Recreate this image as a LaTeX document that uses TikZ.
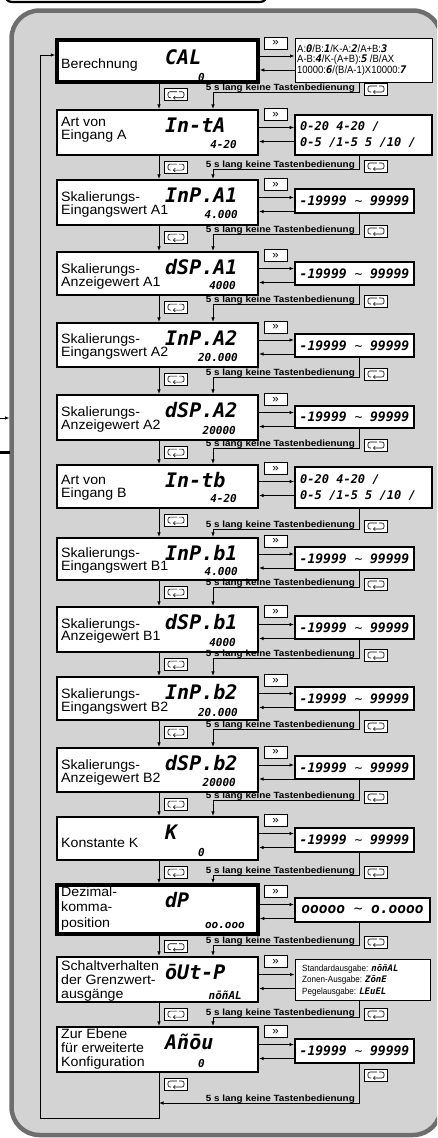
\documentclass[tikz,border=0pt]{standalone}
\usepackage{fontspec}
\setmainfont{Liberation Sans}[FakeStretch=1.05]
\newfontfamily\segfont{DejaVu Sans Mono}
\newfontfamily\narrowfont{Liberation Sans}[FakeStretch=0.9]
\newfontfamily\waitfont{Liberation Sans}[FakeStretch=1.1]
\usetikzlibrary{arrows.meta,calc}
\definecolor{panelgray}{RGB}{211,211,211}
\definecolor{bordergray}{RGB}{110,110,110}
\newcommand\sg{\segfont\bfseries\itshape}
\newcommand\sgs[1]{{\sg #1}}
\newcommand\tld{{\mdseries\upshape\textasciitilde}}
\newcommand\nines{-19999 \tld{} 99999}
\tikzset{
 mainbox/.style={draw, fill=white, minimum width=201pt, inner sep=0pt},
 rbox/.style={draw, fill=white, inner sep=0pt, font=\fontsize{13}{13}\sg},
 keybox/.style={draw, fill=white, line width=1pt, minimum width=23pt, minimum height=12pt, inner sep=0pt},
 conn/.style={line width=0.8pt},
 arr/.style={conn, -{Latex[length=4.5pt,width=3.5pt]}},
 lbl/.style={anchor=west, align=left, inner sep=0pt, font=\fontsize{13.5}{13}\selectfont},
 bigseg/.style={anchor=west, inner sep=0pt, font=\fontsize{20}{20}\sg},
 smallseg/.style={anchor=east, inner sep=0pt, font=\fontsize{11}{11}\sg},
 twoseg/.style={anchor=west, align=left, inner sep=0pt, font=\fontsize{12}{16}\sg},
 narrow/.style={anchor=west, align=left, inner sep=0pt, font=\fontsize{10.5}{10.5}\narrowfont},
 narrowsm/.style={anchor=west, align=left, inner sep=0pt, font=\fontsize{9}{11.5}\narrowfont},
 wait/.style={anchor=base east, inner sep=0pt, font=\fontsize{9}{9}\waitfont\bfseries},
}
\newcommand\retkey[2]{%
 \node[keybox] (#1) at (#2) {};
 \begin{scope}[shift={(#1.center)}, line width=0.6pt]
  \draw[rounded corners=2pt] (1,-3) -- (-8,-3) -- (-8,3) -- (-5,3);
  \draw[rounded corners=2pt, -{Straight Barb[length=1.8pt,width=3.5pt]}] (3,-3) -- (8,-3) -- (8,3) -- (-3,3);
 \end{scope}}
\newcommand\rowbox[9]{%
 \node[mainbox, line width=#7, minimum height={(#3)-(#2)}] (m#1) at (157.5,{((#2)+(#3))/2}) {};
 \node[rbox, line width=#8, minimum width={(#6)-295}, minimum height={(#5)-(#4)}] (r#1) at ({(295+(#6))/2},{((#4)+(#5))/2}) {#9};
 \node[keybox, font=\fontsize{11}{11}\selectfont] (f#1) at (275.5,{((#2)+(#3))/2-18}) {»};
 \coordinate (o#1) at ($(m#1.east)+(0,-5)$);
 \coordinate (b#1) at ($(m#1.east)+(0,9)$);
 \draw[arr] (o#1) -- (o#1 -| r#1.west);
 \draw[arr] (b#1 -| r#1.west) -- (b#1);
}
\newcommand\link[3]{%
 \coordinate (y#1) at (0,#3);
 \draw[arr] (m#1.south -| xl) -- (m#2.north -| xl);
 \draw[arr] (r#1.south -| xr) |- (y#1 -| xm) -- (m#2.north -| xm);
 \node[wait] (w#1) at ($(y#1 -| xr)+(-4,-2)$) {5 s lang keine Tastenbedienung};
 \retkey{kl#1}{$(m#1.south -| kx)+(0,11)$}
 \retkey{kr#1}{$(y#1 -| kxr)+(0,-3)$}
}
\begin{document}
\begin{tikzpicture}[x=1pt,y=-1pt]
\useasboundingbox (0,0) rectangle (437,1138);
\clip (0,0) rectangle (437,1138);
\coordinate (xl) at (159,0);
\coordinate (xm) at (213,0);
\coordinate (xr) at (359,0);
\coordinate (kx) at (176,0);
\coordinate (kxr) at (376,0);
% heading tab (cut off)
\draw[line width=2.2pt, rounded corners=7pt] (5,-20) rectangle (267,2);
% panel
\draw[draw=bordergray, fill=panelgray, line width=4.5pt, rounded corners=28pt] (11.5,10.5) rectangle (441,1135);
% external connectors on the left
\coordinate (e1) at (0,418); \coordinate (e1b) at (9.5,418);
\draw[arr] (e1) -- (e1b);
\coordinate (e2) at (0,452); \coordinate (e2b) at (9.5,452);
\draw[line width=3pt] (e2) -- (e2b);

% rows
\rowbox{1}{40}{82}{38}{82}{432}{3.5pt}{0.9pt}{}
\rowbox{2}{110}{155}{115}{155}{432}{2.2pt}{1.6pt}{}
\rowbox{3}{180}{225}{189}{213}{414}{2.2pt}{2pt}{\nines}
\rowbox{4}{252}{295}{262}{285}{414}{2.2pt}{2pt}{\nines}
\rowbox{5}{323}{367}{334}{357}{414}{2.2pt}{2pt}{\nines}
\rowbox{6}{395}{440}{406}{428}{414}{2.2pt}{2pt}{\nines}
\rowbox{7}{465}{508}{467}{508}{432}{2.2pt}{1.6pt}{}
\rowbox{8}{538}{580}{547}{570}{414}{2.2pt}{2pt}{\nines}
\rowbox{9}{607}{652}{616}{639}{414}{2.2pt}{2pt}{\nines}
\rowbox{10}{677}{720}{687}{710}{414}{2.2pt}{2pt}{\nines}
\rowbox{11}{748}{792}{756}{779}{414}{2.2pt}{2pt}{\nines}
\rowbox{12}{817}{860}{828}{852}{414}{2.2pt}{2pt}{\nines}
\rowbox{13}{885}{934}{898}{922}{430}{3.5pt}{2pt}{\fontsize{14.5}{14.5}\sg ooooo \tld{} o.oooo}
\rowbox{14}{957}{1002}{959}{1000}{430}{2.2pt}{0.9pt}{}
\rowbox{15}{1027}{1072}{1039}{1063}{414}{2.2pt}{2pt}{\nines}

% labels
\node[lbl] (l1) at (61,65) {Berechnung};
\node[lbl] (l2) at (61,130) {Art von\\Eingang A};
\node[lbl] (l3) at (61,205) {Skalierungs-\\Eingangswert A1};
\node[lbl] (l4) at (61,277) {Skalierungs-\\Anzeigewert A1};
\node[lbl] (l5) at (61,347) {Skalierungs-\\Eingangswert A2};
\node[lbl] (l6) at (61,420) {Skalierungs-\\Anzeigewert A2};
\node[lbl] (l7) at (61,488) {Art von\\Eingang B};
\node[lbl] (l8) at (61,561) {Skalierungs-\\Eingangswert B1};
\node[lbl] (l9) at (61,631) {Skalierungs-\\Anzeigewert B1};
\node[lbl] (l10) at (61,701) {Skalierungs-\\Eingangswert B2};
\node[lbl] (l11) at (61,772) {Skalierungs-\\Anzeigewert B2};
\node[lbl] (l12) at (61,843) {Konstante K};
\node[lbl, font=\fontsize{13.5}{15.5}\selectfont] (l13) at (61,908) {Dezimal-\\komma-\\position};
\node[lbl, font=\fontsize{13.5}{14}\selectfont] (l14) at (61,981) {Schaltverhalten\\der Grenzwert-\\ausgänge};
\node[lbl, font=\fontsize{13.5}{14}\selectfont] (l15) at (61,1049) {Zur Ebene\\für erweiterte\\Konfiguration};

% display texts (large)
\node[bigseg] (d1) at (165,57) {CAL};
\node[bigseg] (d2) at (165,125) {In-tA};
\node[bigseg] (d3) at (165,195) {InP.A1};
\node[bigseg] (d4) at (165,267) {dSP.A1};
\node[bigseg] (d5) at (165,338) {InP.A2};
\node[bigseg] (d6) at (165,410) {dSP.A2};
\node[bigseg] (d7) at (165,480) {In-tb};
\node[bigseg] (d8) at (165,553) {InP.b1};
\node[bigseg] (d9) at (165,622) {dSP.b1};
\node[bigseg] (d10) at (165,692) {InP.b2};
\node[bigseg] (d11) at (165,763) {dSP.b2};
\node[bigseg] (d12) at (165,832) {K};
\node[bigseg] (d13) at (165,900) {dP};
\node[bigseg] (d14) at (165,972) {ōUt-P};
\node[bigseg] (d15) at (165,1042) {Añōu};

% display texts (small)
\node[smallseg] (v1) at (205,77.5) {0};
\node[smallseg] (v2) at (237,144) {4-20};
\node[smallseg] (v3) at (238,214) {4.000};
\node[smallseg] (v4) at (236,285) {4000};
\node[smallseg] (v5) at (238,357) {20.000};
\node[smallseg] (v6) at (236,430) {20000};
\node[smallseg] (v7) at (237,498) {4-20};
\node[smallseg] (v8) at (238,571) {4.000};
\node[smallseg] (v9) at (236,642) {4000};
\node[smallseg] (v10) at (238,712) {20.000};
\node[smallseg] (v11) at (236,782) {20000};
\node[smallseg] (v12) at (205,852) {0};
\node[smallseg] (v13) at (245,925) {oo.ooo};
\node[smallseg] (v14) at (242,995) {nōñAL};
\node[smallseg] (v15) at (205,1063) {0};

% right box texts
\node[narrow] (t1) at (297,60) {A:\sgs{0}/B:\sgs{1}/K-A:\sgs{2}/A+B:\sgs{3}\\A-B:\sgs{4}/K-(A+B):\sgs{5} /B/AX\\10000:\sgs{6}/(B/A-1)X10000:\sgs{7}};
\node[twoseg] (t2) at (300,135) {0-20 4-20 /\\0-5 /1-5 5 /10 /};
\node[twoseg] (t7) at (300,487.5) {0-20 4-20 /\\0-5 /1-5 5 /10 /};
\node[narrowsm] (t14) at (302,980) {Standardausgabe: \sgs{nōñAL}\\Zonen-Ausgabe: \sgs{ZōnE}\\Pegelausgabe: \sgs{LEuEL}};

% links
\link{1}{2}{92}
\link{2}{3}{169}
\link{3}{4}{234}
\link{4}{5}{304}
\link{5}{6}{377}
\link{6}{7}{448}
\link{7}{8}{529}
\link{8}{9}{587}
\link{9}{10}{658}
\link{10}{11}{729}
\link{11}{12}{800}
\link{12}{13}{875}
\link{13}{14}{945}
\link{14}{15}{1017}

% last row: back to the top
\coordinate (lb) at (40,1118);
\coordinate (yend) at (0,1103);
\draw[arr] (m15.south -| xl) |- (lb) |- ($(m1.west)+(0,-6)$);
\draw[arr] (r15.south -| xr) |- (yend -| xl);
\node[wait] (w15) at ($(yend -| xr)+(-4,-2)$) {5 s lang keine Tastenbedienung};
\retkey{kl15}{176,1084}
\retkey{kr15}{376,1075}
\end{tikzpicture}
\end{document}
